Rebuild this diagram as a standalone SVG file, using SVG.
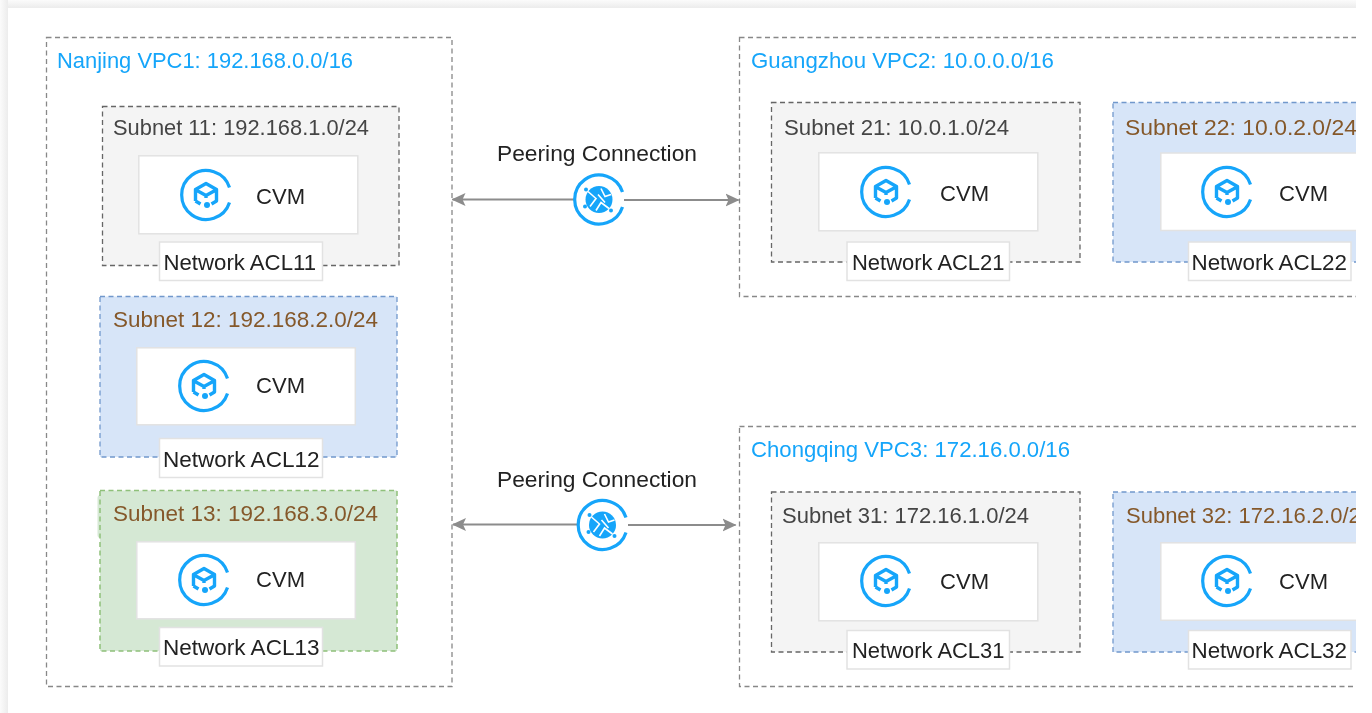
<svg xmlns="http://www.w3.org/2000/svg" width="1372" height="713" viewBox="0 0 1372 713">
<style>
text{font-family:"Liberation Sans",Arial,sans-serif;font-size:22px;fill:#222}
.vt{fill:#14a5fa}
.st{fill:#444}
.bt{fill:#85582a}
.vpc{fill:#fff;stroke:#888;stroke-width:1.3;stroke-dasharray:5 3.5}
.sg{fill:#f4f4f4;stroke:#666;stroke-width:1.3;stroke-dasharray:5 3.5}
.sb{fill:#d7e5f8;stroke:#7198cc;stroke-width:1.3;stroke-dasharray:5 3.5}
.sn{fill:#d5e8d4;stroke:#8fc07a;stroke-width:1.5;stroke-dasharray:5 3.5}
.box{fill:#fff;stroke:#e2e2e2;stroke-width:1.5}
.ring{fill:none;stroke:#14a5fa;stroke-width:3.2}
.ico{fill:none;stroke:#14a5fa;stroke-width:3.4;stroke-linejoin:round}
.dot{fill:#14a5fa}
.gap{fill:none;stroke:#fff;stroke-width:1.6}
.conn{stroke:#8c8c8c;stroke-width:1.8;fill:none}
.ls{marker-start:url(#ah)}
.le{marker-end:url(#ah)}
</style>
<defs>
<clipPath id="cl"><rect x="0" y="0" width="1356" height="713"/></clipPath>
<filter id="soft" x="0" y="0" width="1" height="1" filterUnits="objectBoundingBox"><feGaussianBlur stdDeviation="0.3"/></filter>
<linearGradient id="gt" x1="0" y1="0" x2="0" y2="1"><stop offset="0" stop-color="#fbfbfb"/><stop offset="1" stop-color="#ececec"/></linearGradient>
<linearGradient id="gl" x1="0" y1="0" x2="1" y2="0"><stop offset="0" stop-color="#fbfbfb"/><stop offset="1" stop-color="#ececec"/></linearGradient>
<marker id="ah" viewBox="0 0 14 14" refX="13" refY="7" markerUnits="userSpaceOnUse" markerWidth="14" markerHeight="14" orient="auto-start-reverse"><path d="M0 0.500L14 7L0 13.500L3 7Z" fill="#8c8c8c"/></marker>
<g id="cvmIcon">
<path class="ring" d="M23.5 -7.5A24.5 24.5 0 1 0 23.5 7.5"/>
<path class="ico" d="M-10.500 6V-5.500L0 -11.500L10.500 -5.500V6L5.500 9M-10.500 6L-5.500 9M-10 -5L0 0.500L10 -5M0 0.500V3"/>
<circle class="dot" cx="1" cy="10" r="3"/>
</g>
<g id="peerIcon">
<path class="ring" d="M23.5 -7.5A24.5 24.5 0 1 0 23.5 7.5"/>
<circle class="dot" cx="0" cy="0" r="13.500"/>
<path class="gap" d="M-11 -8L-3 -1L-9 7M2 -11L6 -3L12 -5M-3 11L2 3L10 9M-1 -5L6 3"/>
<circle class="dot" cx="-13" cy="-10" r="2"/><circle class="dot" cx="-14" cy="7" r="2"/><circle class="dot" cx="12" cy="11" r="2"/>
</g>
</defs>
<rect width="1372" height="713" fill="#fff"/>
<g clip-path="url(#cl)">
<g filter="url(#soft)">
<rect x="0" y="0" width="1356" height="8" fill="url(#gt)"/>
<rect x="0" y="0" width="8" height="713" fill="url(#gl)"/>

<g id="vpc1"><rect class="vpc" x="46.500" y="37.500" width="405.500" height="649"/><text class="vt" x="57" y="67.500" textLength="296" lengthAdjust="spacingAndGlyphs">Nanjing VPC1: 192.168.0.0/16</text></g>
<g id="vpc2"><rect class="vpc" x="739.500" y="37.500" width="640" height="259"/><text class="vt" x="751" y="67.500" textLength="303" lengthAdjust="spacingAndGlyphs">Guangzhou VPC2: 10.0.0.0/16</text></g>
<g id="vpc3"><rect class="vpc" x="739.500" y="426.500" width="640" height="260"/><text class="vt" x="751" y="457" textLength="319" lengthAdjust="spacingAndGlyphs">Chongqing VPC3: 172.16.0.0/16</text></g>

<g id="conns">
<path class="conn ls" d="M452.500 199.500H574"/><path class="conn le" d="M624 200H738.500"/>
<path class="conn ls" d="M453 524.500H578"/><path class="conn le" d="M628 525H735.500"/>
</g>
<g id="peer1"><text x="497" y="161" textLength="200" lengthAdjust="spacingAndGlyphs">Peering Connection</text><use href="#peerIcon" x="599" y="199.500"/></g>
<g id="peer2"><text x="497" y="487" textLength="200" lengthAdjust="spacingAndGlyphs">Peering Connection</text><use href="#peerIcon" x="602.500" y="525"/></g>

<g id="subnet11"><rect class="sg" x="102.500" y="106.500" width="296.500" height="159"/><text class="st" x="113" y="134.500" textLength="256" lengthAdjust="spacingAndGlyphs">Subnet 11: 192.168.1.0/24</text>
<rect class="box" x="138.800" y="155.800" width="219" height="78"/><use href="#cvmIcon" x="206" y="195"/><text x="256" y="203.500" textLength="49" lengthAdjust="spacingAndGlyphs">CVM</text>
<rect class="box" x="159.500" y="242" width="163" height="38.500"/><text x="163.500" y="269.500" textLength="152.500" lengthAdjust="spacingAndGlyphs">Network ACL11</text></g>

<g id="subnet12"><rect class="sb" x="100" y="296.500" width="297" height="160.500"/><text class="bt" x="113" y="326.500" textLength="265" lengthAdjust="spacingAndGlyphs">Subnet 12: 192.168.2.0/24</text>
<rect class="box" x="136.800" y="347.800" width="218.500" height="77"/><use href="#cvmIcon" x="204" y="386"/><text x="256" y="393" textLength="49" lengthAdjust="spacingAndGlyphs">CVM</text>
<rect class="box" x="159.500" y="438.500" width="163" height="39"/><text x="163" y="466.500" textLength="156.500" lengthAdjust="spacingAndGlyphs">Network ACL12</text></g>

<g id="subnet13"><rect x="97.500" y="495" width="20" height="43" rx="3" fill="#d5e8d4"/><rect class="sn" x="100" y="490.500" width="297" height="160.500"/><text class="bt" x="113" y="520.500" textLength="265" lengthAdjust="spacingAndGlyphs">Subnet 13: 192.168.3.0/24</text>
<rect class="box" x="136.800" y="541.800" width="218.500" height="77"/><use href="#cvmIcon" x="204" y="580"/><text x="256" y="587" textLength="49" lengthAdjust="spacingAndGlyphs">CVM</text>
<rect class="box" x="159.500" y="627.500" width="163" height="38.500"/><text x="163" y="654.500" textLength="156.500" lengthAdjust="spacingAndGlyphs">Network ACL13</text></g>

<g id="subnet21"><rect class="sg" x="771.500" y="102.500" width="308.500" height="159.500"/><text class="st" x="784" y="134.500" textLength="225" lengthAdjust="spacingAndGlyphs">Subnet 21: 10.0.1.0/24</text>
<rect class="box" x="818.800" y="152.800" width="219" height="78"/><use href="#cvmIcon" x="886" y="192"/><text x="940" y="200.500" textLength="49" lengthAdjust="spacingAndGlyphs">CVM</text>
<rect class="box" x="847" y="242" width="162.500" height="38.500"/><text x="852" y="269.500" textLength="152.500" lengthAdjust="spacingAndGlyphs">Network ACL21</text></g>

<g id="subnet22"><rect class="sb" x="1113" y="102.500" width="260" height="159.500"/><text class="bt" x="1125" y="134.500" textLength="232" lengthAdjust="spacingAndGlyphs">Subnet 22: 10.0.2.0/24</text>
<rect class="box" x="1160.800" y="153" width="219" height="77.500"/><use href="#cvmIcon" x="1227" y="192"/><text x="1279" y="200.500" textLength="49" lengthAdjust="spacingAndGlyphs">CVM</text>
<rect class="box" x="1188.500" y="242" width="162.500" height="38.500"/><text x="1191.500" y="269.500" textLength="155.500" lengthAdjust="spacingAndGlyphs">Network ACL22</text></g>

<g id="subnet31"><rect class="sg" x="771.500" y="492" width="308.500" height="160"/><text class="st" x="782" y="522.500" textLength="247" lengthAdjust="spacingAndGlyphs">Subnet 31: 172.16.1.0/24</text>
<rect class="box" x="818.800" y="542.800" width="219" height="78"/><use href="#cvmIcon" x="886" y="581"/><text x="940" y="588.500" textLength="49" lengthAdjust="spacingAndGlyphs">CVM</text>
<rect class="box" x="847" y="630.500" width="162.500" height="38.500"/><text x="852" y="657.500" textLength="152.500" lengthAdjust="spacingAndGlyphs">Network ACL31</text></g>

<g id="subnet32"><rect class="sb" x="1113" y="492" width="260" height="160"/><text class="bt" x="1126" y="522.500" textLength="247" lengthAdjust="spacingAndGlyphs">Subnet 32: 172.16.2.0/24</text>
<rect class="box" x="1160.800" y="542.800" width="219" height="77.500"/><use href="#cvmIcon" x="1227" y="581"/><text x="1279" y="588.500" textLength="49" lengthAdjust="spacingAndGlyphs">CVM</text>
<rect class="box" x="1188.500" y="630.500" width="162.500" height="38.500"/><text x="1191.500" y="657.500" textLength="155.500" lengthAdjust="spacingAndGlyphs">Network ACL32</text></g>
</g>
</g>
</svg>
